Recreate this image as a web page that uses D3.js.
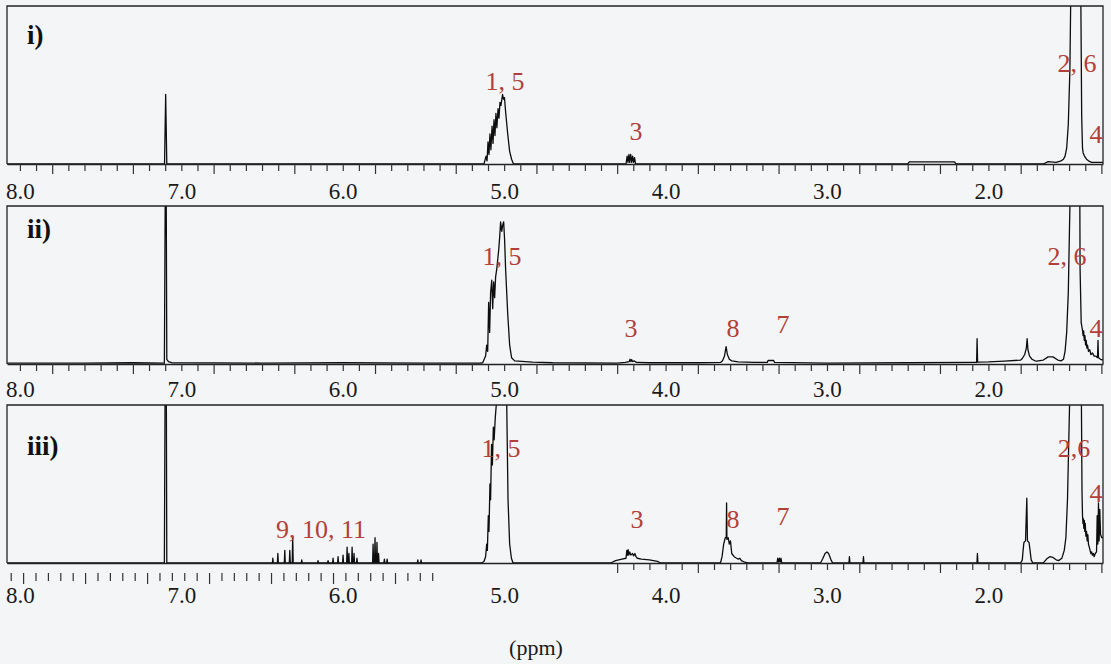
<!DOCTYPE html>
<html>
<head>
<meta charset="utf-8">
<script src="https://cdn.jsdelivr.net/npm/d3@7"></script>
<style>
  body { margin: 0; background: #f4f5f7; }
  svg { display: block; }
</style>
</head>
<body>
<script>
// ---- data (ppm, intensity in % of panel height) ----
const tickLabels = [8.0, 7.0, 6.0, 5.0, 4.0, 3.0, 2.0];
const panelNames = ["i)", "ii)", "iii)"];

const spectrumI = [
  [8.08, 0], [7.104, 0], [7.097, 44], [7.090, 0],
  [5.125, 0], [5.112, 5], [5.106, 2], [5.100, 14], [5.094, 6], [5.088, 19], [5.082, 9], [5.075, 24],
  [5.069, 13], [5.063, 28], [5.057, 18], [5.051, 32], [5.045, 23], [5.038, 35], [5.032, 29],
  [5.026, 39], [5.020, 37], [5.010, 44], [5.004, 41], [4.998, 42], [4.990, 32], [4.978, 19],
  [4.966, 8], [4.954, 3], [4.942, 0],
  [4.245, 0], [4.238, 5], [4.233, 1], [4.227, 6], [4.222, 1], [4.216, 6], [4.210, 1], [4.204, 5],
  [4.198, 1], [4.192, 4], [4.186, 0],
  [2.50, 0], [2.49, 1.3], [2.21, 1.3], [2.20, 0],
  [1.66, 0], [1.63, 1.5], [1.58, 1], [1.55, 2], [1.535, 3], [1.525, 5], [1.515, 10], [1.505, 25],
  [1.495, 60], [1.487, 130], [1.482, 200], [1.432, 200], [1.427, 100], [1.422, 30], [1.417, 10],
  [1.413, 7], [1.405, 5], [1.398, 4], [1.392, 3], [1.38, 2], [1.36, 1], [1.29, 1]
];

const spectrumII = [
  [8.08, 0.5], [7.6, 0.5], [7.3, 0.8], [7.105, 0.5], [7.099, 120], [7.094, 120], [7.090, 3],
  [7.080, 1.5], [7.06, 0.8], [6.5, 0.6], [6.0, 0.8], [5.5, 0.6], [5.15, 0.6],
  [5.133, 0.8], [5.115, 5], [5.108, 12], [5.102, 8], [5.096, 39], [5.090, 20], [5.084, 45],
  [5.077, 53], [5.071, 35], [5.065, 52], [5.059, 42], [5.053, 55], [5.046, 60], [5.040, 66],
  [5.034, 72], [5.028, 80], [5.022, 90], [5.015, 84], [5.009, 88], [5.003, 90], [4.997, 78],
  [4.991, 60], [4.978, 32], [4.966, 12], [4.954, 4], [4.935, 2], [4.824, 1.2], [4.70, 0.8],
  [4.30, 0.6], [4.25, 1], [4.225, 1.5], [4.220, 3], [4.215, 1.5], [4.210, 2.8], [4.205, 1.5],
  [4.195, 2], [4.18, 1], [4.10, 0.8], [3.80, 0.8],
  [3.66, 1], [3.647, 2], [3.635, 5], [3.625, 11], [3.617, 6], [3.605, 3], [3.59, 2], [3.55, 1.3],
  [3.45, 1], [3.37, 1], [3.365, 2.2], [3.33, 2.2], [3.325, 1], [3.0, 0.6], [2.5, 0.8], [2.08, 1],
  [2.073, 1], [2.070, 16], [2.067, 1.2], [2.0, 1.3], [1.90, 1.8], [1.80, 2.5], [1.79, 3.5],
  [1.775, 6], [1.765, 10], [1.760, 16], [1.755, 9], [1.745, 5], [1.73, 3], [1.71, 2], [1.70, 1.8],
  [1.66, 2.5], [1.63, 4.5], [1.60, 4.5], [1.57, 2.5], [1.55, 2], [1.535, 3],
  [1.525, 8], [1.515, 20], [1.505, 45], [1.495, 100], [1.487, 200], [1.437, 200], [1.432, 60],
  [1.425, 26], [1.418, 22], [1.413, 18], [1.410, 21], [1.406, 15], [1.402, 18], [1.398, 12],
  [1.394, 15], [1.390, 10], [1.386, 12], [1.380, 8], [1.372, 9], [1.365, 6], [1.355, 7],
  [1.345, 5], [1.335, 5], [1.324, 4], [1.321, 15], [1.318, 4], [1.305, 3], [1.29, 2.5]
];

const spectrumIII = [
  [8.08, 0], [7.105, 0], [7.099, 150], [7.094, 150], [7.090, 0],
  [6.436, 0], [6.433, 3], [6.430, 0], [6.405, 0], [6.402, 6], [6.399, 0],
  [6.362, 0], [6.359, 8], [6.356, 0], [6.331, 0], [6.328, 8], [6.325, 0],
  [6.313, 0], [6.310, 17], [6.307, 0], [6.257, 0], [6.254, 2], [6.251, 0],
  [6.156, 0], [6.153, 1.5], [6.150, 0], [6.094, 0], [6.091, 1.5], [6.088, 0],
  [6.063, 0], [6.060, 3], [6.057, 0], [6.032, 0], [6.029, 4], [6.026, 0],
  [6.001, 0], [5.998, 5], [5.995, 0], [5.976, 0], [5.973, 10], [5.970, 0],
  [5.965, 0], [5.962, 6], [5.959, 0], [5.945, 0], [5.942, 10], [5.939, 0],
  [5.933, 0], [5.930, 6], [5.927, 0], [5.915, 0], [5.912, 3], [5.909, 0],
  [5.815, 0], [5.812, 12], [5.809, 0], [5.803, 0], [5.800, 16], [5.797, 0],
  [5.791, 0], [5.788, 13], [5.785, 0], [5.781, 0], [5.778, 6], [5.775, 0],
  [5.745, 0], [5.742, 2.5], [5.739, 0], [5.728, 0], [5.725, 2.5], [5.722, 0],
  [5.538, 0], [5.535, 2], [5.532, 0], [5.518, 0], [5.515, 2], [5.512, 0],
  [5.14, 0], [5.125, 1], [5.115, 4], [5.108, 12], [5.104, 8], [5.098, 30], [5.094, 20],
  [5.088, 50], [5.084, 40], [5.078, 75], [5.073, 62], [5.067, 86], [5.062, 78], [5.055, 92],
  [5.045, 105], [5.035, 140], [5.028, 170], [4.990, 170], [4.984, 100], [4.976, 40],
  [4.966, 12], [4.955, 3], [4.945, 0],
  [4.34, 0], [4.31, 1.5], [4.27, 2.5], [4.245, 3], [4.240, 8], [4.236, 5], [4.232, 8.5],
  [4.228, 5], [4.222, 7], [4.215, 5], [4.205, 6], [4.198, 4.5], [4.190, 6], [4.183, 4],
  [4.175, 3], [4.15, 2.5], [4.10, 2], [4.05, 1], [4.03, 0],
  [3.66, 0], [3.650, 4], [3.640, 12], [3.630, 16], [3.624, 16], [3.622, 38], [3.620, 15],
  [3.612, 16], [3.605, 12], [3.598, 14], [3.590, 6], [3.575, 4], [3.56, 3], [3.55, 2.5],
  [3.54, 3], [3.53, 1.5], [3.51, 0.5], [3.49, 0],
  [3.31, 0], [3.305, 3], [3.300, 0.5], [3.295, 3], [3.290, 0.5], [3.285, 3], [3.280, 0],
  [3.04, 0], [3.025, 3], [3.012, 6], [3.000, 7], [2.99, 6], [2.975, 2], [2.965, 0],
  [2.864, 0], [2.861, 4], [2.858, 0], [2.777, 0], [2.774, 4], [2.771, 0],
  [2.071, 0], [2.068, 6], [2.065, 0],
  [1.80, 0], [1.79, 2], [1.785, 8], [1.780, 13], [1.770, 14], [1.762, 41], [1.758, 14],
  [1.748, 13], [1.742, 8], [1.735, 2], [1.725, 0],
  [1.66, 0], [1.64, 2.5], [1.62, 4], [1.60, 3.5], [1.58, 2], [1.565, 1.5], [1.545, 3],
  [1.53, 8], [1.52, 16], [1.51, 40], [1.495, 110], [1.485, 200], [1.43, 200], [1.425, 120],
  [1.420, 45], [1.417, 30], [1.414, 25], [1.412, 28], [1.409, 22], [1.406, 27], [1.403, 20],
  [1.400, 25], [1.396, 17], [1.392, 20], [1.388, 14], [1.384, 18], [1.380, 12], [1.375, 10],
  [1.370, 8], [1.365, 6], [1.360, 7], [1.356, 5], [1.350, 6], [1.345, 4], [1.338, 6],
  [1.330, 7], [1.326, 30], [1.322, 12], [1.318, 38], [1.314, 14], [1.310, 34], [1.305, 18],
  [1.298, 16], [1.29, 16]
];

// peak labels: [text, ppm, intensity %]
const labelsI = [["1, 5", 4.995, 46.8], ["3", 4.183, 15.2], ["2, 6", 1.451, 58.2], ["4", 1.333, 13.3]];
const labelsII = [["1, 5", 5.013, 62.7], ["3", 4.214, 17.1], ["8", 3.582, 17.1], ["7", 3.272, 19.6],
                  ["2, 6", 1.513, 62.7], ["4", 1.333, 17.1]];
const labelsIII = [["9, 10, 11", 6.135, 15.8], ["1, 5", 5.019, 67.1], ["3", 4.177, 22.2],
                   ["8", 3.582, 22.2], ["7", 3.272, 24.1], ["2,6", 1.469, 67.1], ["4", 1.333, 38.6]];

// ---- layout ----
const width = 1111, height = 664;
const serif = "'Liberation Serif', 'Times New Roman', serif";
const red = "#b23f38";

const svg = d3.select("body").append("svg")
  .attr("width", width).attr("height", height);

const x = d3.scaleLinear().domain([8.08, 1.29]).range([7, 1103]);

const panels = [
  { name: panelNames[0], data: spectrumI, labels: labelsI, top: 6, base: 164, nameY: 44, tickY: 199 },
  { name: panelNames[1], data: spectrumII, labels: labelsII, top: 206, base: 364, nameY: 238, tickY: 397 },
  { name: panelNames[2], data: spectrumIII, labels: labelsIII, top: 405, base: 563, nameY: 455, tickY: 603 }
];

const minorTicks = d3.range(13, 81).map(d => d / 10);
const isLong = v => Math.round(v * 10 - 3) % 5 === 0;

panels.forEach((p, i) => {
  const y = d3.scaleLinear().domain([0, 100]).range([p.base, p.top]);
  const g = svg.append("g");

  g.append("clipPath").attr("id", "clip" + i)
    .append("rect")
    .attr("x", x.range()[0]).attr("y", p.top)
    .attr("width", x.range()[1] - x.range()[0]).attr("height", p.base - p.top + 1);

  // spectrum
  g.append("path")
    .datum(p.data)
    .attr("clip-path", `url(#clip${i})`)
    .attr("fill", "none")
    .attr("stroke", "#0d0d0d")
    .attr("stroke-width", 1.3)
    .attr("stroke-linejoin", "round")
    .attr("d", d3.line().x(d => x(d[0])).y(d => y(d[1])));

  // frame (top + sides)
  g.append("path")
    .attr("fill", "none")
    .attr("stroke", "#222")
    .attr("stroke-width", 1.3)
    .attr("d", `M${x.range()[0]},${p.base}V${p.top}H${x.range()[1]}V${p.base}`);

  // baseline axis with ticks
  let vals = minorTicks;
  if (i === 2) vals = minorTicks.filter(v => v <= 4.35);
  const ax = g.append("g")
    .attr("transform", `translate(0,${p.base})`)
    .call(d3.axisBottom(x).tickValues(vals).tickSize(7).tickSizeOuter(0).tickFormat(""));
  ax.select(".domain").attr("stroke", "#222").attr("stroke-width", 1.4);
  ax.selectAll(".tick line").attr("stroke", "#333").attr("stroke-width", 1.2)
    .attr("y2", d => isLong(d) ? 10 : 7);

  if (i === 2) {
    // detached tick row under the olefinic region
    const leftTicks = d3.range(35).map(k => 8.057 - k * 0.0768);
    const ax2 = g.append("g")
      .attr("transform", `translate(0,${p.base + 10})`)
      .call(d3.axisBottom(x).tickValues(leftTicks).tickSize(8).tickSizeOuter(0).tickFormat(""));
    ax2.select(".domain").remove();
    ax2.selectAll(".tick line").attr("stroke", "#333").attr("stroke-width", 1.2)
      .attr("y2", (d, k) => (k % 5 === 1) ? 11 : 8);
  }

  // tick labels
  const lab = g.append("g")
    .attr("transform", `translate(0,${p.tickY})`)
    .call(d3.axisBottom(x).tickValues(tickLabels).tickSize(0).tickFormat(d3.format(".1f")));
  lab.select(".domain").remove();
  lab.selectAll("text")
    .attr("y", 0).attr("dy", 0)
    .attr("fill", "#1a1a1a")
    .style("font-family", serif)
    .style("font-size", "23px");

  // panel name
  g.append("text")
    .attr("x", 27).attr("y", p.nameY)
    .attr("fill", "#111")
    .style("font-family", serif)
    .style("font-weight", "bold")
    .style("font-size", "27px")
    .text(p.name);

  // peak labels
  g.selectAll(".peak")
    .data(p.labels)
    .join("text")
    .attr("class", "peak")
    .attr("x", d => x(d[1]))
    .attr("y", d => y(d[2]))
    .attr("text-anchor", "middle")
    .attr("fill", red)
    .style("font-family", serif)
    .style("font-size", "26px")
    .text(d => d[0]);
});

svg.append("text")
  .attr("x", 536).attr("y", 655)
  .attr("text-anchor", "middle")
  .attr("fill", "#1a1a1a")
  .style("font-family", serif)
  .style("font-size", "22px")
  .text("(ppm)");
</script>
</body>
</html>
